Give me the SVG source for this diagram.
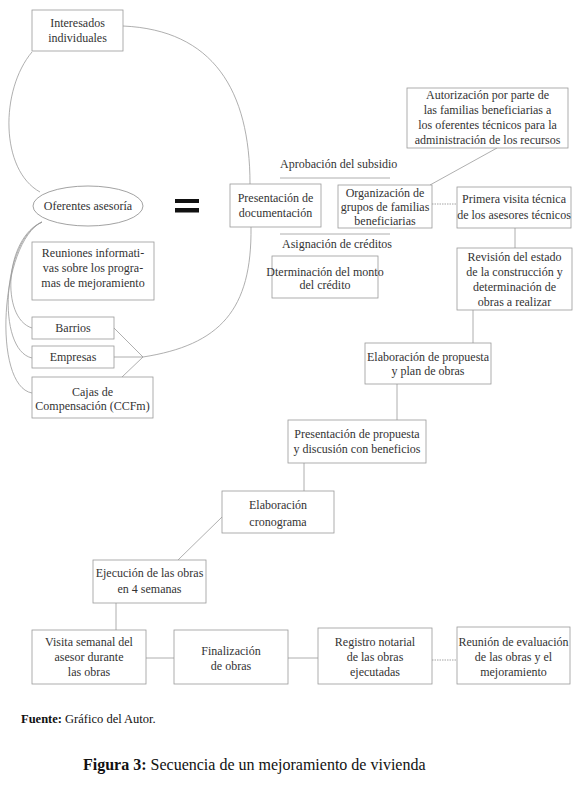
<svg xmlns="http://www.w3.org/2000/svg" width="577" height="787" viewBox="0 0 577 787">
<style>
.b{fill:#fff;stroke:#9a9a9a;stroke-width:0.8}
.e{fill:#fff;stroke:#8a8a8a;stroke-width:0.8}
.c{fill:none;stroke:#9a9a9a;stroke-width:0.8}
.d{fill:none;stroke:#9a9a9a;stroke-width:0.9;stroke-dasharray:1.5 1}
text{font-family:"Liberation Serif","Times New Roman",serif;fill:#333}
.t{font-size:12px;text-anchor:middle}
.l{font-size:12px}
.f{font-size:12.5px;fill:#111}
.g{font-size:16px;fill:#111}
</style>
<rect width="577" height="787" fill="#fff"/>
<g id="connectors">
<path class="c" d="M123,26 C213,30 250,90 250,184"/>
<path class="c" d="M32,52 C0,90 0,170 40,192"/>
<path class="c" d="M42,222 C5,238 0,318 32,328"/>
<path class="c" d="M42,222 C2,240 -4,350 32,358"/>
<path class="c" d="M42,222 C0,242 -8,386 32,393"/>
<path class="c" d="M114,328 L143,357 M114,357 L143,357 M122,377 L143,357"/>
<path class="c" d="M143,357 C220,345 252,310 251,227"/>
<path class="c" d="M497,148 L430,185"/>
<path class="d" d="M432,204 L457,204"/>
<path class="c" d="M515,228 L515,248"/>
<path class="c" d="M473,310 L473,343"/>
<path class="c" d="M397,384 L397,420"/>
<path class="c" d="M304,463 L304,491"/>
<path class="c" d="M222,517 L178,560"/>
<path class="c" d="M116,603 L116,630"/>
<path class="c" d="M146,658 L174,658"/>
<path class="c" d="M288,658 L318,658"/>
<path class="d" d="M432,660 L457,660"/>
<path class="c" d="M280,178 L390,178"/>
<path class="c" d="M280,234 L390,234"/>
</g>
<g id="interesados"><rect class="b" x="32" y="10" width="91" height="41"/><text class="t" x="77.5" y="27">Interesados</text><text class="t" x="77.5" y="42">individuales</text></g>
<g id="oferentes"><ellipse class="e" cx="88" cy="206" rx="55" ry="20"/><text class="t" x="88" y="210">Oferentes asesoría</text></g>
<g id="igual"><rect x="175" y="199" width="24" height="4" fill="#111"/><rect x="175" y="208" width="24" height="4.5" fill="#111"/></g>
<g id="reuniones"><rect class="b" x="32" y="242" width="122" height="58"/><text class="t" x="93" y="257">Reuniones informati-</text><text class="t" x="93" y="272">vas sobre los progra-</text><text class="t" x="93" y="287">mas de mejoramiento</text></g>
<g id="barrios"><rect class="b" x="32" y="317" width="82" height="22"/><text class="t" x="73" y="332">Barrios</text></g>
<g id="empresas"><rect class="b" x="32" y="346" width="82" height="22"/><text class="t" x="73" y="361">Empresas</text></g>
<g id="cajas"><rect class="b" x="32" y="377" width="121" height="41"/><text class="t" x="92.5" y="396">Cajas de</text><text class="t" x="92.5" y="410">Compensación (CCFm)</text></g>
<g id="aprobacion"><text class="l" x="280" y="168">Aprobación del subsidio</text></g>
<g id="asignacion"><text class="l" x="282" y="248">Asignación de créditos</text></g>
<g id="presentacion-doc"><rect class="b" x="230" y="184" width="91" height="43"/><text class="t" x="275.5" y="202">Presentación de</text><text class="t" x="275.5" y="217">documentación</text></g>
<g id="organizacion"><rect class="b" x="338" y="185" width="94" height="43"/><text class="t" x="385" y="197">Organización de</text><text class="t" x="385" y="211">grupos de familias</text><text class="t" x="385" y="225">beneficiarias</text></g>
<g id="autorizacion"><rect class="b" x="407" y="88" width="161" height="60"/><text class="t" x="487.5" y="99">Autorización por parte de</text><text class="t" x="487.5" y="114">las familias beneficiarias a</text><text class="t" x="487.5" y="129">los oferentes técnicos para la</text><text class="t" x="487.5" y="144">administración de los recursos</text></g>
<g id="determinacion"><rect class="b" x="272" y="256" width="106" height="42"/><text class="t" x="325" y="276">Dterminación del monto</text><text class="t" x="325" y="289">del crédito</text></g>
<g id="primera"><rect class="b" x="457" y="187" width="114" height="41"/><text class="t" x="514" y="203">Primera visita técnica</text><text class="t" x="514" y="219">de los asesores técnicos</text></g>
<g id="revision"><rect class="b" x="457" y="248" width="115" height="62"/><text class="t" x="514.5" y="261">Revisión del estado</text><text class="t" x="514.5" y="276">de la construcción y</text><text class="t" x="514.5" y="291">determinación de</text><text class="t" x="514.5" y="306">obras a realizar</text></g>
<g id="elaboracion-propuesta"><rect class="b" x="365" y="343" width="126" height="41"/><text class="t" x="428" y="361">Elaboración de propuesta</text><text class="t" x="428" y="375">y plan de obras</text></g>
<g id="presentacion-propuesta"><rect class="b" x="288" y="420" width="138" height="43"/><text class="t" x="357" y="438">Presentación de propuesta</text><text class="t" x="357" y="453">y discusión con beneficios</text></g>
<g id="cronograma"><rect class="b" x="222" y="491" width="112" height="42"/><text class="t" x="278" y="509">Elaboración</text><text class="t" x="278" y="526">cronograma</text></g>
<g id="ejecucion"><rect class="b" x="93" y="560" width="113" height="43"/><text class="t" x="149.5" y="577">Ejecución de las obras</text><text class="t" x="149.5" y="593">en 4 semanas</text></g>
<g id="visita"><rect class="b" x="32" y="630" width="114" height="54"/><text class="t" x="89" y="646">Visita semanal del</text><text class="t" x="89" y="661">asesor durante</text><text class="t" x="89" y="676">las obras</text></g>
<g id="finalizacion"><rect class="b" x="174" y="630" width="114" height="54"/><text class="t" x="231" y="655">Finalización</text><text class="t" x="231" y="670">de obras</text></g>
<g id="registro"><rect class="b" x="318" y="628" width="114" height="56"/><text class="t" x="375" y="646">Registro notarial</text><text class="t" x="375" y="661">de las obras</text><text class="t" x="375" y="676">ejecutadas</text></g>
<g id="reunion"><rect class="b" x="457" y="627" width="113" height="57"/><text class="t" x="513.5" y="646">Reunión de evaluación</text><text class="t" x="513.5" y="661">de las obras y el</text><text class="t" x="513.5" y="676">mejoramiento</text></g>
<text class="f" x="21" y="723"><tspan font-weight="bold">Fuente:</tspan> Gráfico del Autor.</text>
<text class="g" x="83" y="770"><tspan font-weight="bold">Figura 3:</tspan> Secuencia de un mejoramiento de vivienda</text>
</svg>
